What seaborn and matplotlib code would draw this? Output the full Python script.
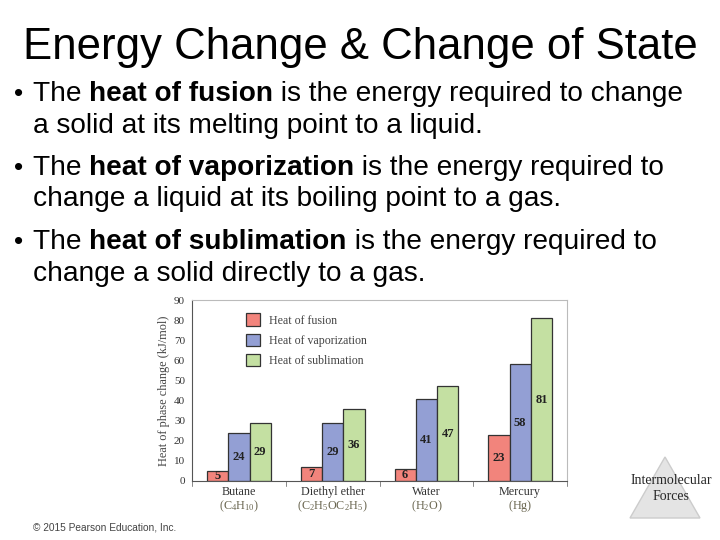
import numpy as np
import pandas as pd
import matplotlib
matplotlib.use('Agg')
import matplotlib.pyplot as plt
import seaborn as sns
from matplotlib.patches import Polygon

substances = ['Butane', 'Diethyl ether', 'Water', 'Mercury']
formulas = [r'$\mathregular{(C_4H_{10})}$', r'$\mathregular{(C_2H_5OC_2H_5)}$',
            r'$\mathregular{(H_2O)}$', r'$\mathregular{(Hg)}$']
heat_fusion = [5, 7, 6, 23]
heat_vaporization = [24, 29, 41, 58]
heat_sublimation = [29, 36, 47, 81]
series_names = ['Heat of fusion', 'Heat of vaporization', 'Heat of sublimation']

bullets = [
    [('The ', False), ('heat of fusion', True), (' is the energy required to change', False)],
    [('a solid at its melting point to a liquid.', False)],
    [('The ', False), ('heat of vaporization', True), (' is the energy required to', False)],
    [('change a liquid at its boiling point to a gas.', False)],
    [('The ', False), ('heat of sublimation', True), (' is the energy required to', False)],
    [('change a solid directly to a gas.', False)],
]

df = pd.DataFrame({
    'substance': substances * 3,
    'series': np.repeat(series_names, 4),
    'value': heat_fusion + heat_vaporization + heat_sublimation,
})

sns.set_style('white')
plt.rcParams['font.family'] = ['Liberation Sans', 'DejaVu Sans']
plt.rcParams['mathtext.fontset'] = 'stix'

fig = plt.figure(figsize=(7.2, 5.4), dpi=100)
W, H = 720, 540

# slide text
fig.text(360 / W, 1 - 47 / H, 'Energy Change & Change of State', ha='center', va='center',
         fontsize=31.5, color='black')

renderer = fig.canvas.get_renderer()
line_y = [94, 126, 168, 199, 242, 274]
for i, (parts, y) in enumerate(zip(bullets, line_y)):
    if i % 2 == 0:
        fig.text(14 / W, 1 - y / H, '•', ha='left', va='center', fontsize=19, color='black')
    x = 33
    for txt, bold in parts:
        t = fig.text(x / W, 1 - y / H, txt, ha='left', va='center', fontsize=20.2, color='black',
                     fontweight='bold' if bold else 'normal')
        x += t.get_window_extent(renderer).width

# chart
ax = fig.add_axes([192 / W, 1 - 481 / H, 375 / W, 181 / H])
palette = ['#f2847c', '#939fd4', '#c4e0a2']
sns.barplot(data=df, x='substance', y='value', hue='series', palette=palette,
            width=0.68, gap=0, saturation=1, edgecolor='#333333', linewidth=0.9, ax=ax)
ax.set_ylim(0, 90)
ax.set_yticks(range(0, 91, 10))
ax.set_xlim(-0.5, 3.5)
serif = ['Liberation Serif', 'DejaVu Serif']
ax.set_yticklabels([str(v) for v in range(0, 91, 10)], fontsize=8, family=serif, color='#333333')
ax.set_xticks(range(4))
ax.set_xticklabels([])
for i, (s, f) in enumerate(zip(substances, formulas)):
    ax.text(i, -2.5, s, ha='center', va='top', fontsize=8.7, family=serif, color='#333333')
    ax.text(i, -8.5, f, ha='center', va='top', fontsize=8.7, family=serif, color='#6a6650')
ax.set_xlabel('')
ax.set_ylabel('Heat of phase change (kJ/mol)', fontsize=8.8, family=serif, color='#444444', labelpad=3)
ax.tick_params(axis='y', length=0, pad=5)
ax.tick_params(axis='x', length=0)
for b in [-0.5, 0.5, 1.5, 2.5, 3.5]:
    ax.plot([b, b], [0, -2.5], color='#888888', lw=0.7, clip_on=False)
for name, sp in ax.spines.items():
    sp.set_color('#bbbbbb' if name in ('top', 'right') else '#555555')
    sp.set_linewidth(0.8)

for cont in ax.containers:
    for bar in cont:
        h = bar.get_height()
        ax.text(bar.get_x() + bar.get_width() / 2, h / 2, f'{h:.0f}', ha='center', va='center',
                fontsize=9, fontweight='bold', family=serif, color='#222222')

leg = ax.legend(loc='upper left', bbox_to_anchor=(0.115, 0.985), frameon=False,
                prop={'family': serif, 'size': 8.6}, handlelength=1.2, handleheight=1.2,
                labelspacing=0.6, handletextpad=0.7, title=None)
for txt in leg.get_texts():
    txt.set_color('#444444')

# footer
fig.text(33 / W, 1 - 527 / H, '© 2015 Pearson Education, Inc.', fontsize=7.3, color='#444444',
         ha='left', va='center')
tri = Polygon([[630 / W, 1 - 518 / H], [700 / W, 1 - 518 / H], [665 / W, 1 - 457 / H]],
              closed=True, transform=fig.transFigure, facecolor='#e4e4e4', edgecolor='#cccccc')
fig.patches.append(tri)
fig.text(671 / W, 1 - 489 / H, 'Intermolecular\nForces', ha='center', va='center', fontsize=10,
         family=serif, linespacing=1.3)

fig.savefig('out.png', dpi=100)
